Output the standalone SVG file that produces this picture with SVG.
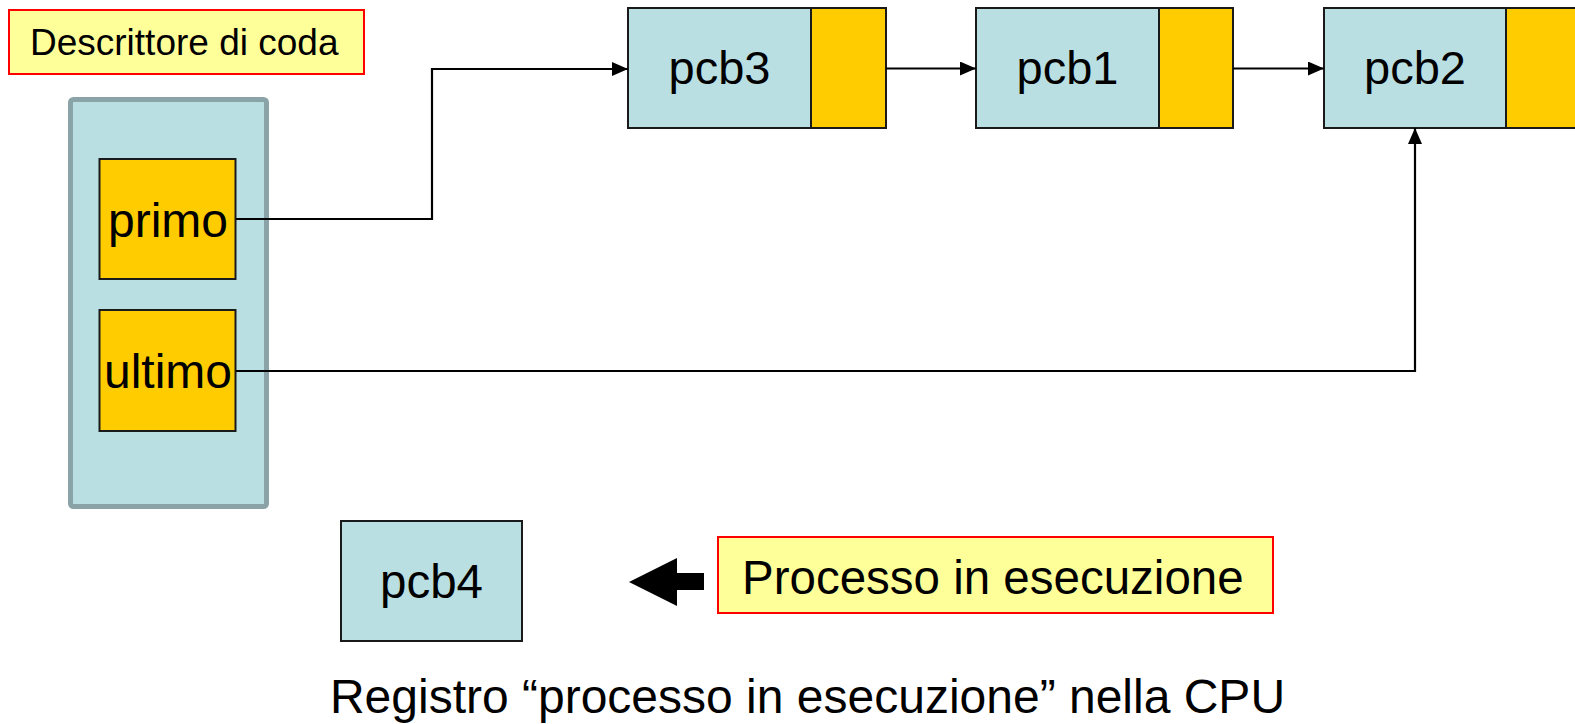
<svg xmlns="http://www.w3.org/2000/svg" width="1575" height="724" viewBox="0 0 1575 724">
<style>
text{font-family:"Liberation Sans",Arial,sans-serif;fill:#000}
.note{fill:#FFFF99;stroke:#FF0000;stroke-width:2}
.pcb{fill:#B9DFE3;stroke:#1a1a1a;stroke-width:2}
.ptr{fill:#FFCC00;stroke:#1a1a1a;stroke-width:2}
.conn{fill:none;stroke:#000;stroke-width:2.2}
</style>
<defs>
<marker id="arr" markerUnits="userSpaceOnUse" markerWidth="18" markerHeight="16" refX="16" refY="7" orient="auto">
<path d="M0,0 L16,7 L0,14 Z" fill="#000"/>
</marker>
</defs>
<rect width="1575" height="724" fill="#fff"/>

<g id="label-descrittore">
<rect class="note" x="9" y="10" width="355" height="64"/>
<text x="30" y="55" font-size="37">Descrittore di coda</text>
</g>

<g id="descrittore">
<rect x="70.5" y="99.5" width="196" height="407" rx="3" fill="#B9DFE3" stroke="#8AA3A6" stroke-width="5"/>
</g>

<g id="primo">
<rect class="ptr" x="99.5" y="159" width="136" height="120"/>
<text x="168" y="237" font-size="48" text-anchor="middle">primo</text>
</g>

<g id="ultimo">
<rect class="ptr" x="99.5" y="310" width="136" height="121"/>
<text x="168" y="388" font-size="48" text-anchor="middle">ultimo</text>
</g>

<g id="pcb3">
<rect class="pcb" x="628" y="8" width="183" height="120"/>
<rect class="ptr" x="811" y="8" width="75" height="120"/>
<text x="719.5" y="84" font-size="47" text-anchor="middle">pcb3</text>
</g>

<g id="pcb1">
<rect class="pcb" x="976" y="8" width="183" height="120"/>
<rect class="ptr" x="1159" y="8" width="74" height="120"/>
<text x="1067.5" y="84" font-size="47" text-anchor="middle">pcb1</text>
</g>

<g id="pcb2">
<rect class="pcb" x="1324" y="8" width="182" height="120"/>
<rect class="ptr" x="1506" y="8" width="76" height="120"/>
<text x="1415" y="84" font-size="47" text-anchor="middle">pcb2</text>
</g>

<g id="pcb4">
<rect class="pcb" x="341" y="521" width="181" height="120"/>
<text x="431.5" y="598" font-size="47.5" text-anchor="middle">pcb4</text>
</g>

<g id="label-processo">
<rect class="note" x="718" y="537" width="555" height="76"/>
<text x="742" y="594" font-size="47.5">Processo in esecuzione</text>
</g>

<g id="caption">
<text x="807.5" y="713" font-size="48" text-anchor="middle">Registro “processo in esecuzione” nella CPU</text>
</g>

<g id="connectors">
<polyline class="conn" points="236,219 432,219 432,69 628,69" marker-end="url(#arr)"/>
<line class="conn" x1="886" y1="68.5" x2="976" y2="68.5" marker-end="url(#arr)"/>
<line class="conn" x1="1233" y1="68.5" x2="1324" y2="68.5" marker-end="url(#arr)"/>
<polyline class="conn" points="236,371 1415,371 1415,128" marker-end="url(#arr)"/>
<polygon points="629,582 677,558 677,573 704,573 704,590 677,590 677,606" fill="#000"/>
</g>
</svg>
